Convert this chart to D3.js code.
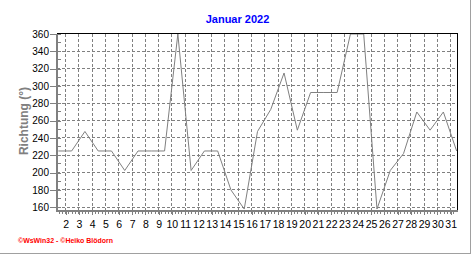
<!DOCTYPE html>
<html>
<head>
<meta charset="utf-8">
<script src="https://cdn.jsdelivr.net/npm/d3@7"></script>
<style>
body { margin: 0; background: #fff; }
svg { display: block; }
text { font-family: "Liberation Sans", Arial, sans-serif; }
</style>
</head>
<body>
<script>
// Windrichtung Tageswerte Januar 2022
const days = d3.range(1, 32);
const richtung = [225, 225, 247.5, 225, 225, 202.5, 225, 225, 225, 360,
                  202.5, 225, 225, 180, 158, 247.5, 273, 315, 249, 292.5,
                  292.5, 292.5, 360, 360, 158, 202.5, 222, 270, 249, 270, 225];
const yTicks = [160, 180, 200, 220, 240, 260, 280, 300, 320, 340, 360];
const xTickDays = d3.range(2, 32);

const width = 472, height = 255;

const svg = d3.select("body").append("svg")
    .attr("width", width)
    .attr("height", height);

// time axis in days, gridlines at day start, values plotted around midday
const x = d3.scaleLinear()
    .domain([1.347, 31.5])
    .range([57, 457.3]);

const y = d3.scaleLinear()
    .domain([160, 360])
    .range([207.3, 34]);

const pLeft = 57, pRight = 457.3, pTop = 33.5, pBottom = 211;

// dashed grid
svg.append("g")
    .selectAll("line")
    .data(xTickDays)
    .enter().append("line")
    .attr("x1", d => x(d)).attr("x2", d => x(d))
    .attr("y1", pTop).attr("y2", pBottom)
    .attr("stroke", "#808080")
    .attr("stroke-dasharray", "3,2")
    .attr("shape-rendering", "crispEdges");

svg.append("g")
    .selectAll("line")
    .data(yTicks.slice(0, -1))
    .enter().append("line")
    .attr("x1", pLeft).attr("x2", pRight)
    .attr("y1", d => y(d)).attr("y2", d => y(d))
    .attr("stroke", "#808080")
    .attr("stroke-dasharray", "3,2")
    .attr("shape-rendering", "crispEdges");

// data line
const line = d3.line()
    .x((d, i) => x(days[i] + 0.45))
    .y(d => y(d));

svg.append("path")
    .datum(richtung)
    .attr("fill", "none")
    .attr("stroke", "#808080")
    .attr("stroke-width", 1)
    .attr("d", line);

// frame: black top and right, gray left and bottom axis
svg.append("line").attr("x1", pLeft).attr("x2", pRight + 0.5).attr("y1", pTop).attr("y2", pTop)
    .attr("stroke", "#000").attr("shape-rendering", "crispEdges");
svg.append("line").attr("x1", pRight).attr("x2", pRight).attr("y1", pTop).attr("y2", pBottom)
    .attr("stroke", "#000").attr("stroke-width", 1.5).attr("shape-rendering", "crispEdges");

// y axis labels + ticks
const yAxis = d3.axisLeft(y)
    .tickValues(yTicks)
    .tickSize(7)
    .tickPadding(1);

const gy = svg.append("g")
    .attr("transform", `translate(${pLeft},0)`)
    .call(yAxis);
gy.select(".domain").remove();
gy.selectAll(".tick line").attr("stroke", "#808080").attr("x2", -7).attr("x1", 4)
    .attr("shape-rendering", "crispEdges");
gy.selectAll(".tick text")
    .attr("fill", "#000")
    .style("font-size", "10px")
    .style("font-family", "Liberation Sans, Arial, sans-serif");

// minor y ticks every 10
svg.append("g")
    .selectAll("line")
    .data(d3.range(170, 360, 20))
    .enter().append("line")
    .attr("x1", pLeft).attr("x2", pLeft + 4)
    .attr("y1", d => y(d)).attr("y2", d => y(d))
    .attr("stroke", "#808080")
    .attr("shape-rendering", "crispEdges");

// x axis labels
const xAxis = d3.axisBottom(x)
    .tickValues(xTickDays)
    .tickSize(4)
    .tickPadding(6)
    .tickFormat(d3.format("d"));

const gx = svg.append("g")
    .attr("transform", `translate(0,${pBottom})`)
    .call(xAxis);
gx.select(".domain").remove();
gx.selectAll(".tick line").attr("stroke", "#808080").attr("shape-rendering", "crispEdges");
gx.selectAll(".tick text")
    .attr("fill", "#000")
    .style("font-size", "10.5px")
    .style("font-family", "Liberation Sans, Arial, sans-serif");

// minor x ticks every 6 hours
svg.append("g")
    .selectAll("line")
    .data(d3.range(1.5, 31.5, 0.25))
    .enter().append("line")
    .attr("x1", d => x(d)).attr("x2", d => x(d))
    .attr("y1", pBottom).attr("y2", pBottom + 3)
    .attr("stroke", "#808080")
    .attr("shape-rendering", "crispEdges");

// gray axis lines
svg.append("line").attr("x1", pLeft).attr("x2", pLeft).attr("y1", pTop).attr("y2", pBottom + 1)
    .attr("stroke", "#808080").attr("stroke-width", 2.5).attr("shape-rendering", "crispEdges");
svg.append("line").attr("x1", pLeft - 1).attr("x2", pRight + 1).attr("y1", pBottom).attr("y2", pBottom)
    .attr("stroke", "#808080").attr("stroke-width", 2).attr("shape-rendering", "crispEdges");

// title
svg.append("text")
    .attr("x", 237.5)
    .attr("y", 22.5)
    .attr("text-anchor", "middle")
    .attr("fill", "#0000ff")
    .style("font-size", "11px")
    .style("font-weight", "bold")
    .text("Januar 2022");

// y label
svg.append("text")
    .attr("transform", "translate(28,121) rotate(-90)")
    .attr("text-anchor", "middle")
    .attr("fill", "#808080")
    .style("font-size", "12px")
    .style("font-weight", "bold")
    .text("Richtung (°)");

// footer
svg.append("text")
    .attr("x", 18)
    .attr("y", 242.7)
    .attr("fill", "#ff0000")
    .attr("textLength", 95)
    .attr("lengthAdjust", "spacingAndGlyphs")
    .style("font-size", "6.5px")
    .style("font-weight", "bold")
    .text("©WsWin32 - ©Heiko Blödorn");

// outer border right/bottom
svg.append("line").attr("x1", 0).attr("x2", 471).attr("y1", 253.5).attr("y2", 253.5)
    .attr("stroke", "#a0a0a0").attr("shape-rendering", "crispEdges");
svg.append("line").attr("x1", 470.5).attr("x2", 470.5).attr("y1", 0).attr("y2", 254)
    .attr("stroke", "#a0a0a0").attr("shape-rendering", "crispEdges");
</script>
</body>
</html>
